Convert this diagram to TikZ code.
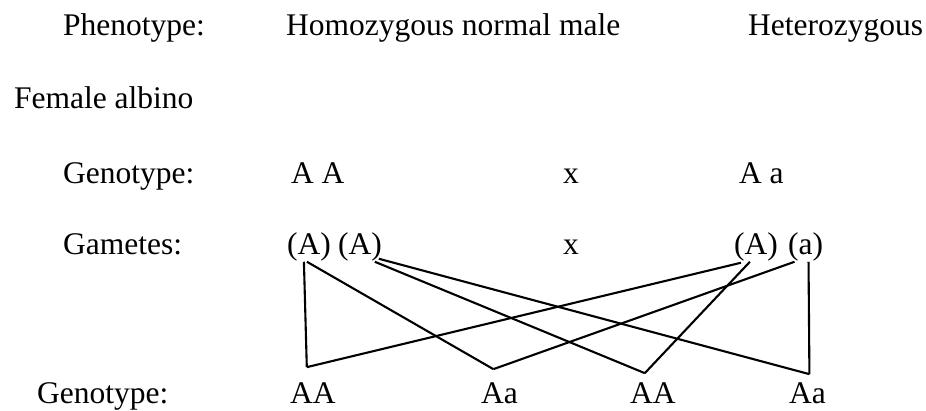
\documentclass[tikz,border=0pt]{standalone}
\usepackage{fontspec}
\setmainfont{Liberation Serif}
\usetikzlibrary{calc}

\begin{document}
\begin{tikzpicture}[x=1pt,y=1pt,line width=2.1pt,every node/.style={font=\fontsize{31.5}{38}\selectfont,inner sep=0pt,anchor=base west}]
\useasboundingbox (0,0) rectangle (926,410);
% parents
\node (phen) at (62,374.5) {Phenotype:};
\node (male) at (285,374.5) {Homozygous normal male};
\node (het) at (747,374.5) {Heterozygous};
\node (fem) at (13,301) {Female albino};
\node (geno) at (62,226) {Genotype:};
\node (gm) at (290,226) {A A};
\node (cross) at (562,226) {x};
\node (gf) at (738,226) {A a};
% gametes
\node (gam) at (62,156) {Gametes:};
\node (g1) at (286,156) {(A)};
\node (g2) at (337,156) {(A)};
\node (cross2) at (562,156) {x};
\node (g3) at (733,156) {(A)};
\node (g4) at (787,156) {(a)};
% offspring
\node (off) at (36,7) {Genotype:};
\node (o1) at (289,7) {AA};
\node (o2) at (480,7) {Aa};
\node (o3) at (629,7) {AA};
\node (o4) at (788,7) {Aa};
\coordinate (j1) at ($(o1.north)+(-6,14)$);
\coordinate (j2) at ($(o2.north)+(-6,12)$);
\coordinate (j3) at ($(o3.north)+(-8,8)$);
\coordinate (j4) at ($(o4.north)+(2,7)$);
\draw ([xshift=-5pt]g1.south)--(j1);
\draw ([xshift=-2pt]g1.south)--(j2);
\draw ([xshift=-8pt]g2.south east)--(j3);
\draw ([shift={(-4pt,3pt)}]g2.south east)--(j4);
\draw ([shift={(-15pt,-1pt)}]g3.south)--(j1);
\draw ([xshift=-6pt]g3.south)--(j3);
\draw ([xshift=-11pt]g4.south)--(j2);
\draw ([xshift=3pt]g4.south)--(j4);
\end{tikzpicture}
\end{document}
